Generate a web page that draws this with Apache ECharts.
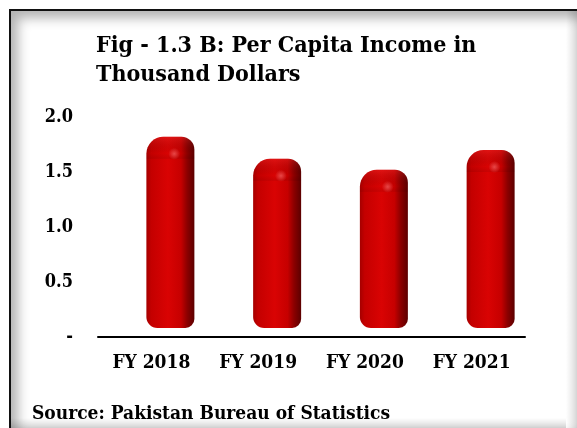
<!DOCTYPE html>
<html>
<head>
<meta charset="utf-8">
<script src="https://cdn.jsdelivr.net/npm/echarts@6/dist/echarts.min.js"></script>
<style>
  html, body { margin: 0; padding: 0; background: #fff; overflow: hidden; width: 577px; height: 428px; }
  #frame {
    position: absolute; left: 9px; top: 9px; width: 566px; height: 417px;
    border-left: 2px solid #111; border-top: 2px solid #111;
    box-shadow: inset 7px 7px 12px rgba(0,0,0,0.30);
  }
  #rightEdge {
    position: absolute; left: 566px; top: 11px; width: 11px; height: 417px;
    background: linear-gradient(to right, rgba(0,0,0,0), rgba(0,0,0,0.14));
  }
  #bottomEdge {
    position: absolute; left: 11px; top: 418px; width: 555px; height: 10px;
    background: linear-gradient(to bottom, rgba(0,0,0,0), rgba(0,0,0,0.16));
  }
  #chart { position: absolute; left: 0; top: 0; width: 577px; height: 428px; }
</style>
</head>
<body>
<div id="frame"></div>
<div id="rightEdge"></div>
<div id="bottomEdge"></div>
<div id="chart"></div>
<script>
// data
const categories = ["FY 2018", "FY 2019", "FY 2020", "FY 2021"];
const incomeValues = [1.82, 1.62, 1.52, 1.70];
const yTicks = [0, 0.5, 1.0, 1.5, 2.0];

const FONT = "'DejaVu Serif Condensed', 'DejaVu Serif', serif";

const chart = echarts.init(document.getElementById("chart"), null, { renderer: "canvas" });

// 3d-ish rounded red column
function renderBar(params, api) {
  const top = api.coord([api.value(0), api.value(1)]);
  const base = api.coord([api.value(0), 0]);
  const bw = 48;
  const x = top[0] + 19 - bw / 2;
  const y1 = top[1];
  const y2 = base[1] - 9;

  const body = {
    type: "rect",
    shape: { x: x, y: y1, width: bw, height: y2 - y1, r: [17, 13, 9, 11] },
    style: {
      fill: new echarts.graphic.LinearGradient(0, 0, 1, 0, [
        { offset: 0, color: "#a50000" },
        { offset: 0.1, color: "#c40000" },
        { offset: 0.45, color: "#d90303" },
        { offset: 0.72, color: "#c60000" },
        { offset: 0.85, color: "#8c0000" },
        { offset: 1, color: "#5c0000" }
      ])
    }
  };

  const cap = {
    type: "rect",
    shape: { x: x, y: y1, width: bw, height: 22, r: [17, 13, 0, 0] },
    style: {
      fill: new echarts.graphic.LinearGradient(0, 0, 0, 1, [
        { offset: 0, color: "rgba(255,80,80,0.22)" },
        { offset: 0.75, color: "rgba(0,0,0,0)" },
        { offset: 1, color: "rgba(0,0,0,0.08)" }
      ])
    }
  };

  const shine = {
    type: "circle",
    shape: { cx: x + bw * 0.58, cy: y1 + 17, r: 6 },
    style: {
      fill: new echarts.graphic.RadialGradient(0.5, 0.5, 0.5, [
        { offset: 0, color: "rgba(255,140,140,0.5)" },
        { offset: 1, color: "rgba(255,140,140,0)" }
      ])
    }
  };

  return { type: "group", children: [body, cap, shine] };
}

chart.setOption({
  animation: false,
  backgroundColor: "transparent",
  title: [
    {
      text: "Fig - 1.3 B: Per Capita Income in\nThousand Dollars",
      left: 91,
      top: 27,
      textStyle: { fontFamily: FONT, fontWeight: "bold", fontSize: 23, lineHeight: 29, color: "#000" }
    },
    {
      text: "Source: Pakistan Bureau of Statistics",
      left: 27,
      top: 398,
      textStyle: { fontFamily: FONT, fontWeight: "bold", fontSize: 19, lineHeight: 22, color: "#000" }
    }
  ],
  grid: { left: 98, right: 52, top: 117, bottom: 91 },
  xAxis: {
    type: "category",
    data: categories,
    axisLine: { lineStyle: { color: "#000", width: 2 } },
    axisTick: { show: false },
    axisLabel: { margin: 17, fontFamily: FONT, fontWeight: "bold", fontSize: 19, color: "#000" }
  },
  yAxis: {
    type: "value",
    min: yTicks[0],
    max: yTicks[yTicks.length - 1],
    interval: 0.5,
    splitLine: { show: false },
    axisLine: { show: false },
    axisTick: { show: false },
    axisLabel: {
      margin: 25,
      fontFamily: FONT, fontWeight: "bold", fontSize: 18, color: "#000",
      formatter: v => (v === 0 ? "-" : v.toFixed(1))
    }
  },
  series: [{
    type: "custom",
    renderItem: renderBar,
    encode: { x: 0, y: 1 },
    data: incomeValues.map((v, i) => [i, v])
  }]
});
</script>
</body>
</html>
